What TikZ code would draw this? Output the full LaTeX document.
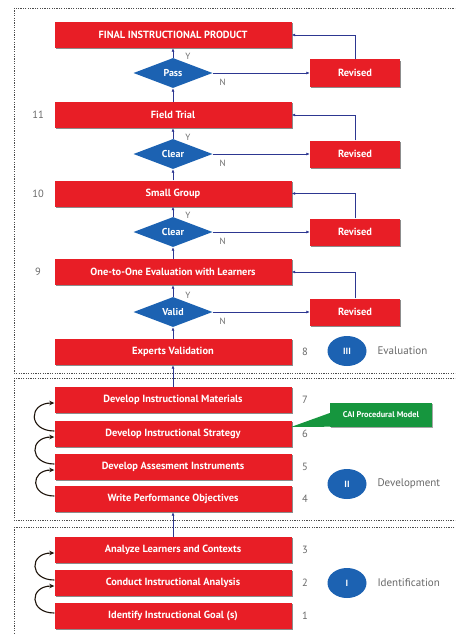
\documentclass[tikz,border=0pt]{standalone}
\usepackage{fontspec}
\setmainfont{PT Sans}
\usetikzlibrary{shapes.geometric,arrows.meta,shadows}
\definecolor{boxred}{RGB}{232,30,38}
\definecolor{diablue}{RGB}{28,98,178}
\definecolor{linkblue}{RGB}{45,55,145}
\definecolor{callgreen}{RGB}{22,150,62}
\definecolor{numgray}{RGB}{105,105,105}
\begin{document}
\begin{tikzpicture}[x=1pt,y=-1pt,
  stepbox/.style={fill=boxred, text=white, font=\bfseries\fontsize{10.4}{12}\selectfont,
    minimum width=237pt, minimum height=26pt, inner sep=0pt,
    drop shadow={shadow xshift=1.2pt, shadow yshift=-1.2pt, fill=black, opacity=.45}},
  revbox/.style={stepbox, minimum width=90pt, minimum height=27pt},
  check/.style={diamond, fill=diablue, text=white, font=\bfseries\fontsize{10}{12}\selectfont,
    minimum width=79pt, minimum height=30pt, inner sep=0pt},
  link/.style={linkblue, line width=0.7pt, -{Latex[length=3.5pt,width=3pt]}},
  yn/.style={text=numgray, font=\fontsize{9}{10}\selectfont},
  num/.style={text=numgray, font=\fontsize{10.5}{12}\selectfont},
  phase/.style={ellipse, fill=diablue, text=white, font=\bfseries\fontsize{9}{10}\selectfont,
    minimum width=39pt, minimum height=30pt, inner sep=0pt},
  phasetxt/.style={text=numgray, anchor=west, font=\fontsize{11}{13}\selectfont},
  loopback/.style={black!85!brown, line width=1.1pt, -{Stealth[length=5pt,width=4.5pt]}},
  frame/.style={black!70, line width=0.6pt, dash pattern=on 1.2pt off 1.2pt}]
\clip (0,0) rectangle (455,634);
\fill[white] (0,0) rectangle (455,634);
\draw[frame] (14,8) rectangle (470,373);
\draw[frame] (14,378) rectangle (470,520);
\draw[frame] (14,527) rectangle (470,650);

\node[stepbox] (final) at (173,35) {FINAL INSTRUCTIONAL PRODUCT};
\node[stepbox] (field) at (173,115) {Field Trial};
\node[stepbox] (small) at (173,193.5) {Small Group};
\node[stepbox] (onetoone) at (173,272) {One-to-One Evaluation with Learners};
\node[stepbox] (experts) at (173,352) {Experts Validation};
\node[stepbox] (materials) at (173,400) {Develop Instructional Materials};
\node[stepbox] (strategy) at (173,434) {Develop Instructional Strategy};
\node[stepbox] (assess) at (173,467) {Develop Assesment Instruments};
\node[stepbox] (objectives) at (173,499) {Write Performance Objectives};
\node[stepbox] (learners) at (173,550) {Analyze Learners and Contexts};
\node[stepbox] (analysis) at (173,583) {Conduct Instructional Analysis};
\node[stepbox] (goal) at (173,616) {Identify Instructional Goal (s)};

\foreach \name/\txt/\y/\low/\high in {pass/Pass/73/field/final, clearA/Clear/154/small/field,
    clearB/Clear/232/onetoone/small, valid/Valid/312/experts/onetoone} {
  \node[check] (\name) at (173,\y) {\txt};
  \node[revbox] (rev\name) at (355,\y) {Revised};
  \draw[link] (\low) -- (\name);
  \draw[link] (\name) -- (\high);
  \node[yn] (y\name) at ([xshift=15pt,yshift=1pt]\name.north) {Y};
  \draw[link] (\name) -- (rev\name);
  \node[yn] (n\name) at ([xshift=10pt,yshift=-9pt]\name.east) {N};
  \draw[link] (rev\name) |- (\high);
}
\draw[link] (materials) -- (experts);
\draw[link] (learners) -- (objectives);

\foreach \a/\b in {goal/analysis, analysis/learners, objectives/assess, assess/strategy, strategy/materials}
  \draw[loopback] ([yshift=3pt]\a.west) to[out=180, in=180, looseness=2.4] ([yshift=-3pt]\b.west);

\foreach \n/\y in {11/115, 10/193.5, 9/272}
  \node[num] (num\n) at (38,\y) {\n};
\foreach \n/\y in {8/352, 7/400, 6/434, 5/467, 4/499, 3/550, 2/583, 1/616}
  \node[num] (num\n) at (305,\y) {\n};

\node[phase] (phIII) at (347,351) {III};
\node[phasetxt] (evaluation) at (374,351) {Evaluation};
\node[phase] (phII) at (347,484) {II};
\node[phasetxt] (development) at (374,484) {Development};
\node[phase] (phI) at (347,583) {I};
\node[phasetxt] (identification) at (374,583) {Identification};

\node[fill=callgreen, text=white, font=\bfseries\fontsize{8.3}{9}\selectfont, minimum width=102pt,
  minimum height=24pt, inner sep=0pt,
  drop shadow={shadow xshift=1.2pt, shadow yshift=-1.2pt, fill=black, opacity=.35}] (cai) at (381,415) {CAI Procedural Model};
\coordinate (caitip) at (291,427);
\fill[callgreen] ([yshift=2pt]cai.west) -- (caitip) -- ([yshift=0.5pt]cai.south west) -- cycle;
\end{tikzpicture}
\end{document}
